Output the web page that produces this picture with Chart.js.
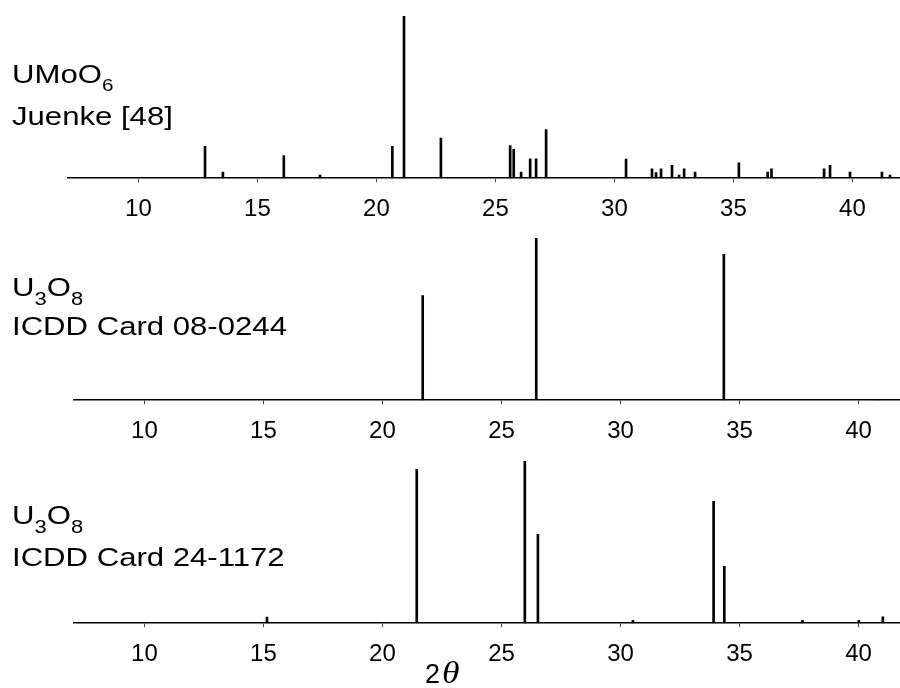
<!DOCTYPE html>
<html>
<head>
<meta charset="utf-8">
<script src="https://cdn.jsdelivr.net/npm/chart.js@4"></script>
<style>
html, body { margin: 0; padding: 0; background: #fff; }
body { width: 900px; height: 688px; position: relative; overflow: hidden;
       font-family: "Liberation Sans", Arial, sans-serif; color: #000; }
canvas { position: absolute; }
.lbl { position: absolute; left: 12px; font-size: 25.5px; line-height: 26px; white-space: nowrap;
       transform: scaleX(1.22); transform-origin: 0 0; }
.lbl sub { font-size: 17px; vertical-align: -8px; line-height: 0; }
.lbl.ox sub { font-size: 18px; vertical-align: -9px; }
.xt { position: absolute; left: 425px; top: 659px; font-size: 27px; line-height: 28px; white-space: nowrap; }
.xt .th { display: inline-block; font-family: "Liberation Serif", "DejaVu Serif", serif; font-style: italic;
          font-size: 31px; margin-left: 2px; transform: scaleX(1.15); transform-origin: 0 100%; }
</style>
</head>
<body>
<canvas id="p1" width="833" height="225" style="left:67px;top:12px"></canvas>
<canvas id="p2" width="827" height="225" style="left:73px;top:234px"></canvas>
<canvas id="p3" width="827" height="225" style="left:73px;top:457px"></canvas>

<div class="lbl" style="top:61px">UMoO<sub>6</sub></div>
<div class="lbl" style="top:103px">Juenke [48]</div>
<div class="lbl ox" style="top:274px">U<sub>3</sub>O<sub>8</sub></div>
<div class="lbl" style="top:313px">ICDD Card 08-0244</div>
<div class="lbl ox" style="top:502px">U<sub>3</sub>O<sub>8</sub></div>
<div class="lbl" style="top:544px">ICDD Card 24-1172</div>
<div class="xt">2<span class="th">θ</span></div>

<script>
// 2θ tick positions shared by all three patterns
const tickValues = [10, 15, 20, 25, 30, 35, 40];

// UMoO6 reference pattern (Juenke [48]): peak positions (2θ) and relative intensities (%)
const umoo6Angles = [12.80, 13.55, 16.11, 17.63, 20.67, 21.16, 22.71, 25.62, 25.77, 26.08,
                     26.46, 26.71, 27.13, 30.49, 31.58, 31.75, 31.96, 32.42, 32.72, 32.93,
                     33.39, 35.23, 36.44, 36.60, 38.81, 39.06, 39.90, 41.24, 41.58];
const umoo6Intensity = [19.7, 3.7, 13.9, 1.9, 19.7, 100, 24.8, 20.1, 17.8, 3.7,
                        12.0, 12.0, 30.0, 11.8, 5.8, 3.5, 5.8, 7.9, 1.9, 5.8,
                        3.7, 9.5, 3.7, 5.8, 5.8, 7.9, 3.7, 3.7, 1.9];

// U3O8, ICDD card 08-0244
const card080244Angles = [21.69, 26.46, 34.34, 40.81];
const card080244Intensity = [64.5, 100, 89.9, 0.6];

// U3O8, ICDD card 24-1172
const card241172Angles = [15.15, 21.44, 25.98, 26.53, 30.52, 33.91, 34.36, 37.64, 40.01, 41.02];
const card241172Intensity = [3.7, 94.8, 100, 54.8, 1.7, 75.2, 35.0, 1.7, 1.7, 3.9];

function stickPattern(canvasId, angles, intensity, xMax) {
  const points = angles.map((a, i) => ({ x: a, y: intensity[i] }));
  return new Chart(document.getElementById(canvasId), {
    type: 'bar',
    data: {
      datasets: [{
        data: points,
        backgroundColor: '#000',
        borderWidth: 0,
        barThickness: 2
      }]
    },
    options: {
      responsive: false,
      animation: false,
      devicePixelRatio: 1,
      layout: { padding: { top: 4, left: 0, right: 0, bottom: 0 } },
      plugins: { legend: { display: false }, tooltip: { enabled: false } },
      scales: {
        x: {
          type: 'linear',
          min: 7,
          max: xMax,
          offset: false,
          afterBuildTicks: (scale) => { scale.ticks = tickValues.map(v => ({ value: v })); },
          grid: { offset: false, drawOnChartArea: false, drawTicks: true, tickLength: 4, color: '#444', lineWidth: 1 },
          border: { display: true, color: '#000', width: 1.6 },
          ticks: {
            font: { family: '"Liberation Sans", Arial, sans-serif', size: 24 },
            color: '#000',
            padding: 13,
            maxRotation: 0,
            autoSkip: false
          }
        },
        y: { display: false, min: 0, max: 100 }
      }
    }
  });
}

stickPattern('p1', umoo6Angles, umoo6Intensity, 42.0);
stickPattern('p2', card080244Angles, card080244Intensity, 41.74);
stickPattern('p3', card241172Angles, card241172Intensity, 41.74);
</script>
</body>
</html>
